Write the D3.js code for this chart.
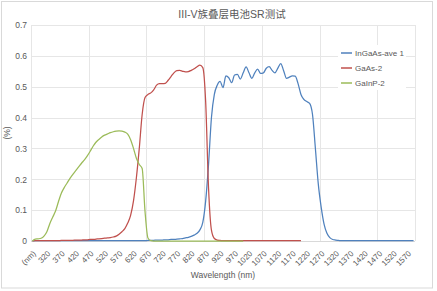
<!DOCTYPE html>
<html>
<head>
<meta charset="utf-8">
<script src="https://cdn.jsdelivr.net/npm/d3@7"></script>
<style>
  body { margin: 0; background: #fff; }
  svg { display: block; font-family: "Liberation Sans", Arial, "Noto Sans CJK SC", sans-serif; }
</style>
</head>
<body>
<div id="chart"></div>
<script>
// wavelength categories: header cell then 280..1590 nm
const categories = ["(nm)"].concat(d3.range(280, 1600, 10).map(String));

// InGaAs-ave 1: (nm), 280 .. 1590
const ingaas = [0,
  0.001, 0.001, 0.001, 0.001, 0.001, 0.001, 0.001, 0.001, 0.001, 0.001,   // 280-370
  0.001, 0.001, 0.001, 0.001, 0.001, 0.001, 0.001, 0.001, 0.001, 0.001,   // 380-470
  0.001, 0.001, 0.001, 0.001, 0.001, 0.001, 0.001, 0.001, 0.001, 0.001,   // 480-570
  0.001, 0.001, 0.001, 0.001, 0.001, 0.001, 0.001, 0.001, 0.001, 0.002,   // 580-670
  0.002, 0.002, 0.003, 0.003, 0.003, 0.004, 0.004, 0.005, 0.005, 0.006,   // 680-770
  0.007, 0.008, 0.010, 0.012, 0.015, 0.019, 0.025, 0.036, 0.060, 0.130,   // 780-870
  0.250, 0.400, 0.475, 0.505, 0.517, 0.497, 0.535, 0.529, 0.513, 0.538,   // 880-970
  0.540, 0.525, 0.545, 0.564, 0.545, 0.527, 0.545, 0.557, 0.543, 0.545,   // 980-1070
  0.560, 0.565, 0.553, 0.545, 0.560, 0.575, 0.552, 0.527, 0.531, 0.535,   // 1080-1170
  0.534, 0.510, 0.475, 0.459, 0.452, 0.446, 0.410, 0.300, 0.185, 0.110,   // 1180-1270
  0.055, 0.025, 0.011, 0.005, 0.003, 0.002, 0.001, 0.001, 0.001, 0.001,   // 1280-1370
  0.001, 0.001, 0.001, 0.001, 0.001, 0.001, 0.001, 0.001, 0.001, 0.001,   // 1380-1470
  0.001, 0.001, 0.001, 0.001, 0.001, 0.001, 0.001, 0.001, 0.001, 0.001,   // 1480-1570
  0.001, 0.001];                                                          // 1580-1590

// GaAs-2: (nm), 280 .. 1200
const gaas = [0,
  0.001, 0.001, 0.001, 0.001, 0.001, 0.001, 0.001, 0.001, 0.001, 0.002,   // 280-370
  0.002, 0.002, 0.002, 0.002, 0.003, 0.003, 0.003, 0.004, 0.004, 0.005,   // 380-470
  0.005, 0.006, 0.007, 0.008, 0.009, 0.010, 0.011, 0.013, 0.016, 0.022,   // 480-570
  0.030, 0.040, 0.058, 0.083, 0.130, 0.205, 0.300, 0.410, 0.465, 0.475,   // 580-670
  0.480, 0.490, 0.505, 0.510, 0.510, 0.511, 0.521, 0.533, 0.545, 0.552,   // 680-770
  0.553, 0.550, 0.548, 0.549, 0.553, 0.558, 0.565, 0.570, 0.562, 0.450,   // 780-870
  0.170, 0.035, 0.008, 0.003, 0.002, 0.001, 0.001, 0.001, 0.001, 0.001,   // 880-970
  0.001, 0.001, 0.001, 0.001, 0.001, 0.001, 0.001, 0.001, 0.001, 0.001,   // 980-1070
  0.001, 0.001, 0.001, 0.001, 0.001, 0.001, 0.001, 0.001, 0.001, 0.001,   // 1080-1170
  0.001, 0.001, 0.001];                                                   // 1180-1200

// GaInP-2: (nm), 280 .. 1000
const gainp = [0,
  0.006, 0.007, 0.009, 0.016, 0.030, 0.056, 0.077, 0.097, 0.127, 0.155,   // 280-370
  0.173, 0.188, 0.203, 0.216, 0.228, 0.240, 0.252, 0.263, 0.276, 0.291,   // 380-470
  0.307, 0.320, 0.329, 0.337, 0.343, 0.347, 0.351, 0.354, 0.356, 0.357,   // 480-570
  0.356, 0.353, 0.346, 0.328, 0.300, 0.268, 0.248, 0.235, 0.095, 0.010,   // 580-670
  0.001, 0, 0, 0, 0, 0, 0, 0, 0, 0,                                       // 680-770
  0, 0, 0, 0, 0, 0, 0, 0, 0, 0,                                           // 780-870
  0, 0, 0, 0, 0, 0, 0, 0, 0, 0,                                           // 880-970
  0, 0, 0];                                                               // 980-1000

const seriesNames = ["InGaAs-ave 1", "GaAs-2", "GaInP-2"];
const seriesColors = ["#4F81BD", "#C0504D", "#9BBB59"];
const yTicks = [0, 0.1, 0.2, 0.3, 0.4, 0.5, 0.6, 0.7];

const width = 437, height = 291;
const margin = {left: 31, right: 22, top: 25, bottom: 50};
const plotRight = width - margin.right;
const plotBottom = height - margin.bottom;
const textColor = "#595959";
const gridColor = "#e6e6e6";

const svg = d3.select("#chart").append("svg")
  .attr("width", width)
  .attr("height", height);

// chart area border
svg.append("rect")
  .attr("x", 1.5).attr("y", 1.5)
  .attr("width", 431).attr("height", 286.5)
  .attr("fill", "#fff")
  .attr("stroke", "#d9d9d9")
  .attr("stroke-width", 1);

const xScale = d3.scaleBand()
  .domain(categories)
  .range([margin.left, plotRight])
  .padding(0);

const yScale = d3.scaleLinear()
  .domain([0, 0.7])
  .range([plotBottom, margin.top]);

// horizontal gridlines
svg.append("g")
  .selectAll("line")
  .data(yTicks)
  .enter().append("line")
    .attr("x1", margin.left)
    .attr("x2", plotRight)
    .attr("y1", d => Math.round(yScale(d)) + 0.5)
    .attr("y2", d => Math.round(yScale(d)) + 0.5)
    .attr("stroke", d => d === 0 ? "#d9d9d9" : gridColor)
    .attr("stroke-width", 1);

// vertical gridlines every 20 categories, plus the right edge
const vIdx = d3.range(0, categories.length, 20).concat([categories.length]);
svg.append("g")
  .selectAll("line")
  .data(vIdx)
  .enter().append("line")
    .attr("x1", i => Math.round(i < categories.length ? xScale(categories[i]) : plotRight) + 0.5)
    .attr("x2", i => Math.round(i < categories.length ? xScale(categories[i]) : plotRight) + 0.5)
    .attr("y1", margin.top)
    .attr("y2", plotBottom)
    .attr("stroke", gridColor)
    .attr("stroke-width", 1);

// title
svg.append("text")
  .attr("x", 232)
  .attr("y", 18)
  .attr("text-anchor", "middle")
  .attr("fill", textColor)
  .style("font-size", "10.5px")
  .text("III-V族叠层电池SR测试");

// y axis
const yAxis = d3.axisLeft(yScale)
  .tickValues(yTicks)
  .tickSize(0)
  .tickPadding(4)
  .tickFormat(d => d === 0 ? "0" : d3.format(".1f")(d));

svg.append("g")
  .attr("transform", "translate(" + margin.left + ",0)")
  .call(yAxis)
  .call(g => g.select(".domain").remove())
  .selectAll("text")
    .attr("fill", textColor)
    .style("font-size", "8.5px")
    .style("font-family", "inherit");

// x axis, label every 5th category
const xAxis = d3.axisBottom(xScale)
  .tickValues(categories.filter((c, i) => i % 5 === 0))
  .tickSize(0);

svg.append("g")
  .attr("transform", "translate(0," + plotBottom + ")")
  .call(xAxis)
  .call(g => g.select(".domain").remove())
  .selectAll("text")
    .attr("x", 0)
    .attr("y", 0)
    .attr("dy", "0.35em")
    .attr("text-anchor", "end")
    .attr("transform", "translate(2,11) rotate(-45)")
    .attr("fill", textColor)
    .style("font-size", "8px")
    .style("font-family", "inherit");

// axis titles
svg.append("text")
  .attr("transform", "translate(10," + ((margin.top + plotBottom) / 2) + ") rotate(-90)")
  .attr("text-anchor", "middle")
  .attr("fill", textColor)
  .style("font-size", "8.5px")
  .text("(%)");

svg.append("text")
  .attr("x", (margin.left + plotRight) / 2)
  .attr("y", 278)
  .attr("text-anchor", "middle")
  .attr("fill", textColor)
  .style("font-size", "8.5px")
  .text("Wavelength (nm)");

// lines
const half = xScale.bandwidth() / 2;
const line = d3.line()
  .x((d, i) => xScale(categories[i]) + half)
  .y(d => yScale(d))
  .curve(d3.curveMonotoneX);

[ingaas, gaas, gainp].forEach((values, k) => {
  svg.append("path")
    .datum(values)
    .attr("fill", "none")
    .attr("stroke", seriesColors[k])
    .attr("stroke-width", 1.25)
    .attr("stroke-linejoin", "round")
    .attr("d", line);
});

// legend
const legend = svg.append("g");
legend.append("rect")
  .attr("x", 338).attr("y", 45)
  .attr("width", 68).attr("height", 45)
  .attr("fill", "#fff");

seriesNames.forEach((name, k) => {
  const ly = 53 + k * 15;
  legend.append("line")
    .attr("x1", 341).attr("x2", 352)
    .attr("y1", ly).attr("y2", ly)
    .attr("stroke", seriesColors[k])
    .attr("stroke-width", 1.5);
  legend.append("text")
    .attr("x", 355)
    .attr("y", ly)
    .attr("dy", "0.35em")
    .attr("fill", textColor)
    .style("font-size", "8px")
    .text(name);
});
</script>
</body>
</html>
